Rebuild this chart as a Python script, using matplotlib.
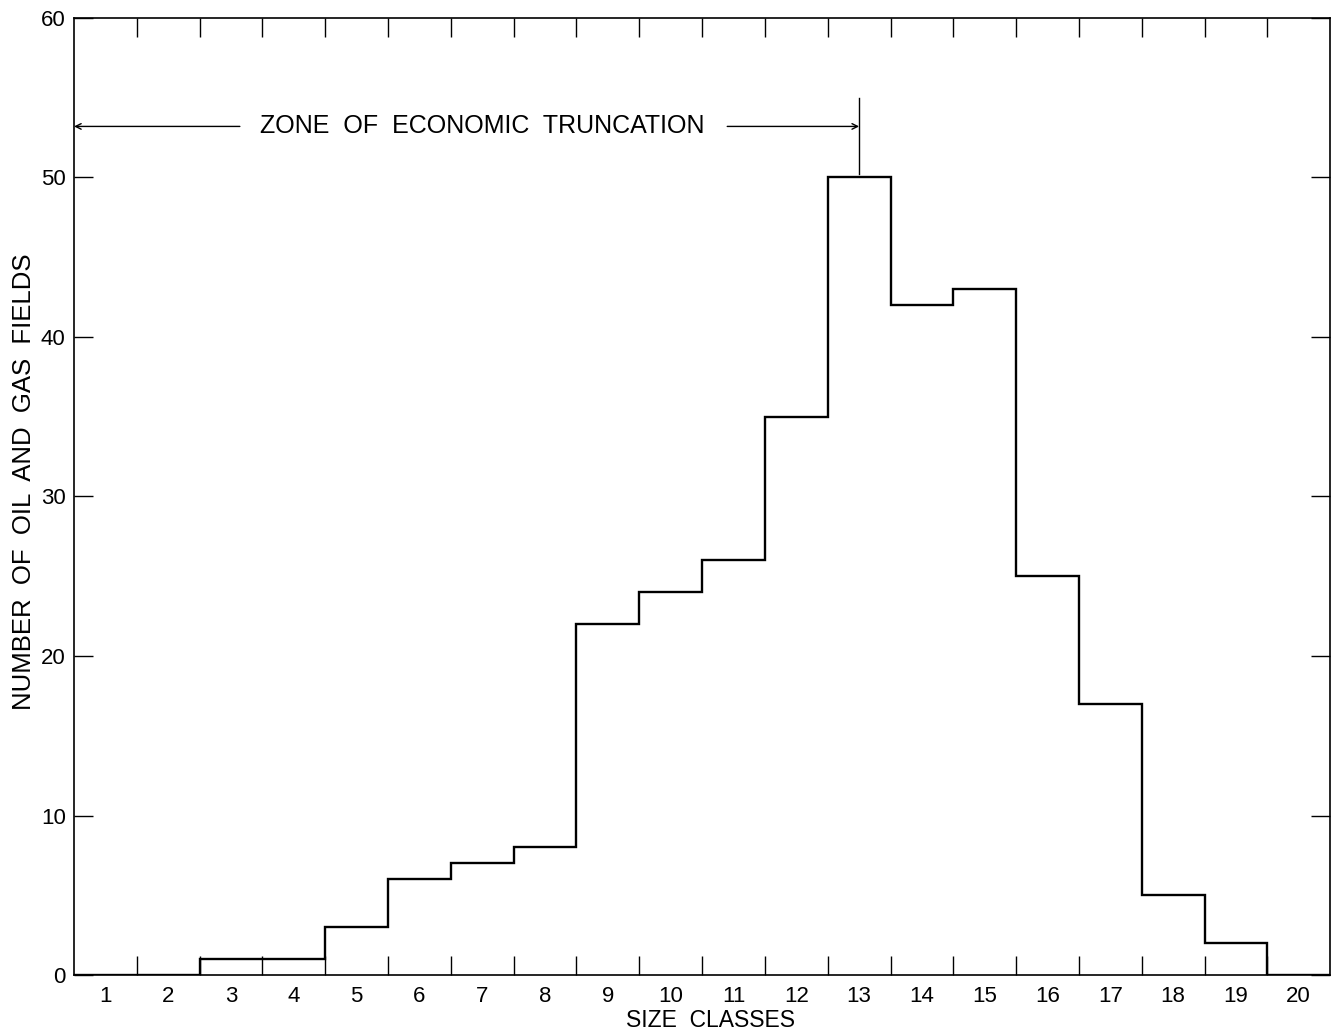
import numpy as np
import matplotlib
matplotlib.use("Agg")
import matplotlib.pyplot as plt

plt.rcParams['font.family'] = ['Liberation Sans', 'DejaVu Sans']

size_classes = list(range(1, 21))
field_counts = [0, 0, 1, 1, 3, 6, 7, 8, 22, 24, 26, 35, 50, 42, 43, 25, 17, 5, 2, 0]
zone_label = "ZONE  OF  ECONOMIC  TRUNCATION"

edges = np.arange(0.5, len(size_classes) + 1, 1.0)

fig = plt.figure(figsize=(13.32, 10.32), dpi=100)
ax = fig.add_axes([0.0556, 0.0552, 0.943, 0.9274])

ax.stairs(field_counts, edges, color='black', linewidth=1.7)

ax.set_xlim(0.5, 20.5)
ax.set_ylim(0, 60)

# class labels at centres, tick marks at class boundaries
ax.set_xticks(edges[1:-1])
ax.set_xticklabels([])
ax.set_xticks(size_classes, minor=True)
ax.set_xticklabels([str(c) for c in size_classes], minor=True, fontsize=16)
ax.tick_params(axis='x', which='major', direction='in', length=14, width=1,
               top=True, bottom=True)
ax.tick_params(axis='x', which='minor', length=0, pad=8)

ax.set_yticks(np.arange(0, 61, 10))
ax.tick_params(axis='y', direction='in', length=14, width=1, left=True,
               right=True, labelsize=16, pad=6)
for s in ax.spines.values():
    s.set_linewidth(1.2)

ax.set_xlabel("SIZE  CLASSES", fontsize=16.5)
ax.xaxis.set_label_coords(0.507, -0.035)
ax.set_ylabel("NUMBER  OF  OIL  AND  GAS  FIELDS", fontsize=18.5)
ax.yaxis.set_label_coords(-0.030, 0.515)

# zone of economic truncation annotation
y_arrow = 53.2
ax.annotate('', xy=(0.5, y_arrow), xytext=(3.14, y_arrow),
            arrowprops=dict(arrowstyle='->', color='black', lw=1, shrinkA=0, shrinkB=0))
ax.annotate('', xy=(13.0, y_arrow), xytext=(10.9, y_arrow),
            arrowprops=dict(arrowstyle='->', color='black', lw=1, shrinkA=0, shrinkB=0))
ax.plot([13.0, 13.0], [50.2, 55.0], color='black', linewidth=1)
ax.text(7.0, y_arrow, zone_label, ha='center', va='center', fontsize=18)

fig.savefig("out.png", dpi=100)
